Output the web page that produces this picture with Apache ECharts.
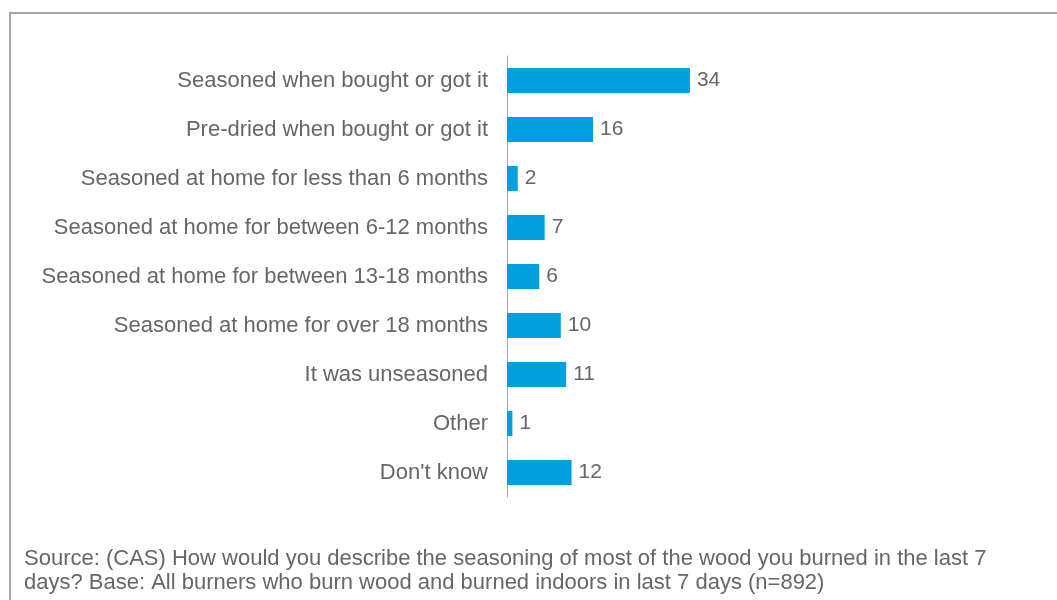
<!DOCTYPE html>
<html>
<head>
<meta charset="utf-8">
<script src="https://cdn.jsdelivr.net/npm/echarts@6/dist/echarts.min.js"></script>
<style>
  html, body { margin: 0; padding: 0; background: #ffffff; }
  #chart { width: 1057px; height: 600px; }
</style>
</head>
<body>
<div id="chart"></div>
<script>
// Seasoning of wood burned in the last 7 days (%)
const categories = [
  'Seasoned when bought or got it',
  'Pre-dried when bought or got it',
  'Seasoned at home for less than 6 months',
  'Seasoned at home for between 6-12 months',
  'Seasoned at home for between 13-18 months',
  'Seasoned at home for over 18 months',
  'It was unseasoned',
  'Other',
  "Don't know"
];
const values = [34, 16, 2, 7, 6, 10, 11, 1, 12];
const sourceLines = [
  'Source: (CAS) How would you describe the seasoning of most of the wood you burned in the last 7',
  'days? Base: All burners who burn wood and burned indoors in last 7 days (n=892)'
];

const FONT = '"Liberation Sans", Arial, sans-serif';
const TEXT = '#666666';

const chart = echarts.init(document.getElementById('chart'), null, { renderer: 'canvas' });
chart.setOption({
  animation: false,
  backgroundColor: '#ffffff',
  grid: { left: 507, right: 12, top: 56, bottom: 103, containLabel: false },
  xAxis: {
    type: 'value',
    min: 0,
    max: 100,
    show: false
  },
  yAxis: {
    type: 'category',
    data: categories,
    inverse: true,
    axisLine: { show: true, lineStyle: { color: '#a6a6a6', width: 1 } },
    axisTick: { show: false },
    axisLabel: {
      color: TEXT,
      fontFamily: FONT,
      fontSize: 22,
      margin: 19
    }
  },
  series: [{
    type: 'bar',
    data: values,
    barWidth: 25,
    itemStyle: { color: '#009fdf' },
    label: {
      show: true,
      position: 'right',
      distance: 7,
      color: TEXT,
      fontFamily: FONT,
      fontSize: 21
    }
  }],
  graphic: [
    {
      type: 'rect',
      shape: { x: 10, y: 13, width: 1200, height: 800 },
      style: { fill: null, stroke: '#a6a6a6', lineWidth: 2 },
      silent: true
    },
    {
      type: 'text',
      left: 24,
      top: 547,
      style: {
        text: sourceLines.join('\n'),
        fill: TEXT,
        font: '22px ' + FONT,
        lineHeight: 24
      }
    }
  ]
});
</script>
</body>
</html>
